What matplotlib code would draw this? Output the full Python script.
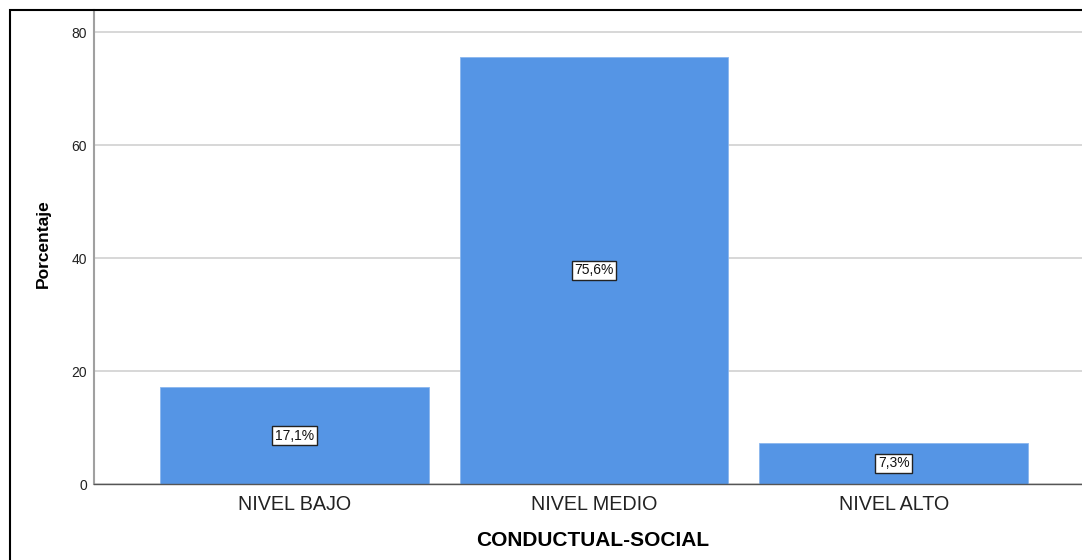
import matplotlib
matplotlib.use("Agg")
import matplotlib.pyplot as plt
from matplotlib.patches import Rectangle

categories = ["NIVEL BAJO", "NIVEL MEDIO", "NIVEL ALTO"]
values = [17.1, 75.6, 7.3]
labels = ["17,1%", "75,6%", "7,3%"]
yticks = [0, 20, 40, 60, 80]

plt.rcParams['font.family'] = ['Liberation Sans', 'DejaVu Sans']

W, H = 1082, 560
fig = plt.figure(figsize=(W / 100, H / 100), dpi=100)
fig.patch.set_facecolor('white')

left, right, top, bottom = 94, 1094, 10, 484
ax = fig.add_axes([left / W, 1 - bottom / H, (right - left) / W, (bottom - top) / H])

x = list(range(len(categories)))
ax.bar(x, values, width=0.897, color='#5595e5', edgecolor='#8ab6ee', linewidth=0.6, zorder=2)

for xi, v, lab in zip(x, values, labels):
    ax.text(xi, v / 2, lab, ha='center', va='center', fontsize=10, color='#111111', zorder=3,
            bbox=dict(boxstyle='square,pad=0.2', facecolor='white', edgecolor='#222222', linewidth=1.0))

ax.set_xlim(-0.668, 2.668)
ax.set_ylim(0, 83.9)
ax.set_yticks(yticks)
ax.set_yticklabels([str(t) for t in yticks], fontsize=10, color='#222222')
ax.set_xticks(x)
ax.set_xticklabels(categories, fontsize=14.2, color='#222222')
ax.tick_params(axis='x', length=0, pad=8)
ax.tick_params(axis='y', length=0, pad=5)

ax.grid(axis='y', color='#d4d4d4', linewidth=1.3, zorder=0)
ax.set_axisbelow(True)
for s in ['top', 'right']:
    ax.spines[s].set_visible(False)
ax.spines['left'].set_color('#a0a0a0')
ax.spines['left'].set_linewidth(1.5)
ax.spines['bottom'].set_color('#555555')
ax.spines['bottom'].set_linewidth(1.0)

ax.set_xlabel('CONDUCTUAL-SOCIAL', fontsize=15, fontweight='bold', color='black')
ax.xaxis.set_label_coords((593 - left) / (right - left), -(541 - bottom) / (bottom - top), transform=ax.transAxes)
ax.xaxis.label.set_va('center')
ax.set_ylabel('Porcentaje', fontsize=12.5, fontweight='bold', color='black')
ax.yaxis.set_label_coords(-(left - 43) / (right - left), (bottom - 244) / (bottom - top), transform=ax.transAxes)
ax.yaxis.label.set_va('center')

frame = Rectangle((10 / W, -0.2), 1.2, (1 - 9.7 / H) + 0.2, transform=fig.transFigure,
                  fill=False, edgecolor='black', linewidth=1.5, zorder=10)
fig.patches.append(frame)

fig.savefig('out.png', dpi=100)
